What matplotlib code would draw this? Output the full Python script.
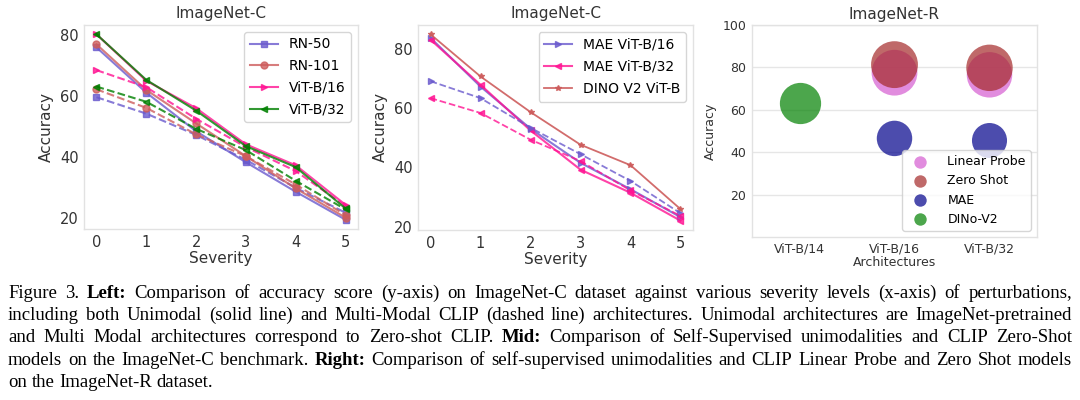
import numpy as np
import matplotlib
matplotlib.use('Agg')
import matplotlib.pyplot as plt

# ---- data ----
severity = [0, 1, 2, 3, 4, 5]

left_models = ['RN-50', 'RN-101', 'ViT-B/16', 'ViT-B/32']
# unimodal, ImageNet-pretrained (solid)
uni_rn50 = [76.0, 61.1, 48.4, 38.2, 28.5, 19.3]
uni_rn101 = [77.0, 62.0, 51.0, 40.2, 29.6, 20.0]
uni_vitb16 = [80.3, 65.0, 56.0, 44.1, 37.2, 24.2]
uni_vitb32 = [80.3, 65.3, 55.2, 43.5, 36.6, 23.0]
# CLIP zero-shot (dashed)
clip_rn50 = [59.6, 54.2, 47.2, 39.0, 29.8, 21.6]
clip_rn101 = [62.2, 56.1, 47.4, 40.2, 30.9, 20.8]
clip_vitb16 = [68.5, 62.9, 52.5, 43.2, 35.3, 23.8]
clip_vitb32 = [63.1, 58.1, 49.2, 42.2, 32.1, 22.7]

mid_models = ['MAE ViT-B/16', 'MAE ViT-B/32', 'DINO V2 ViT-B']
mae_vitb16 = [83.6, 67.2, 53.0, 41.5, 32.6, 23.2]
mae_vitb32 = [83.0, 67.8, 52.4, 39.2, 31.4, 22.0]
dino_vitb = [84.8, 70.6, 58.6, 47.6, 40.7, 25.9]
mid_clip_vitb16 = [69.0, 63.3, 53.3, 44.4, 35.4, 24.5]
mid_clip_vitb32 = [63.3, 58.3, 49.3, 42.1, 32.2, 23.6]

arch = ['ViT-B/14', 'ViT-B/16', 'ViT-B/32']
lp_arch = ['ViT-B/16', 'ViT-B/32']
linear_probe = [77.5, 76.5]
zs_arch = ['ViT-B/16', 'ViT-B/32']
zero_shot = [81.3, 79.8]
mae_arch = ['ViT-B/16', 'ViT-B/32']
mae_r = [46.5, 45.5]
dino_arch = ['ViT-B/14']
dino_r = [63.0]

caption = [
    "Figure 3. **Left:** Comparison of accuracy score (y-axis) on ImageNet-C dataset against various severity levels (x-axis) of perturbations,",
    "including both Unimodal (solid line) and Multi-Modal CLIP (dashed line) architectures. Unimodal architectures are ImageNet-pretrained",
    "and Multi Modal architectures correspond to Zero-shot CLIP. **Mid:** Comparison of Self-Supervised unimodalities and CLIP Zero-Shot",
    "models on the ImageNet-C benchmark. **Right:** Comparison of self-supervised unimodalities and CLIP Linear Probe and Zero Shot models",
    "on the ImageNet-R dataset.",
]

W, H = 1080, 400
fig = plt.figure(figsize=(W / 100, H / 100), dpi=100)
ax1 = fig.add_axes([84 / W, 1 - 229 / H, 274 / W, 204 / H])
ax2 = fig.add_axes([418 / W, 1 - 230 / H, 275 / W, 205 / H])
ax3 = fig.add_axes([752 / W, 1 - 237 / H, 285 / W, 212 / H])


def style(ax, fs):
    for s in ax.spines.values():
        s.set_color('#e2e2e2')
        s.set_linewidth(1.0)
    ax.tick_params(length=0, labelsize=fs, labelcolor='#333333', pad=4)


# left
cols = ['slateblue', 'indianred', 'deeppink', 'green']
mks = ['s', 'o', '>', '<']
for name, u, c_, col, m in zip(left_models,
                               [uni_rn50, uni_rn101, uni_vitb16, uni_vitb32],
                               [clip_rn50, clip_rn101, clip_vitb16, clip_vitb32],
                               cols, mks):
    ax1.plot(severity, u, color=col, marker=m, ms=5, lw=1.5, alpha=0.8, label=name)
    ax1.plot(severity, c_, color=col, marker=m, ms=5, lw=1.5, ls='--', alpha=0.8)
ax1.set_title('ImageNet-C', fontsize=11, color='#333333', pad=5)
ax1.set_xlabel('Severity', fontsize=11, color='#333333', labelpad=1)
ax1.set_ylabel('Accuracy', fontsize=11, color='#333333', labelpad=4)
ax1.set_yticks([20, 40, 60, 80])
ax1.legend(loc='upper right', fontsize=10, labelspacing=0.55)
style(ax1, 10.5)

# middle
ax2.plot(severity, mae_vitb16, color='slateblue', marker='>', ms=5, lw=1.5, alpha=0.8, label=mid_models[0])
ax2.plot(severity, mae_vitb32, color='deeppink', marker='<', ms=5, lw=1.5, alpha=0.8, label=mid_models[1])
ax2.plot(severity, dino_vitb, color='indianred', marker='*', ms=4, lw=1.3, alpha=0.9, label=mid_models[2])
ax2.plot(severity, mid_clip_vitb16, color='slateblue', marker='>', ms=5, lw=1.3, ls='--', alpha=0.8)
ax2.plot(severity, mid_clip_vitb32, color='deeppink', marker='<', ms=5, lw=1.3, ls='--', alpha=0.8)
ax2.set_title('ImageNet-C', fontsize=11, color='#333333', pad=5)
ax2.set_xlabel('Severity', fontsize=11, color='#333333', labelpad=1)
ax2.set_ylabel('Accuracy', fontsize=11, color='#333333', labelpad=4)
ax2.set_yticks([20, 40, 60, 80])
ax2.legend(loc='upper right', fontsize=10, labelspacing=0.6)
style(ax2, 10.5)

# right
k = 14.0
ax3.set_axisbelow(True)
ax3.grid(axis='y', color='#e6e6e6', lw=1.0)
ax3.scatter([arch.index(a) for a in lp_arch], linear_probe, s=[k * v for v in linear_probe],
            color='orchid', alpha=0.8, lw=0, label='Linear Probe')
ax3.scatter([arch.index(a) for a in zs_arch], zero_shot, s=[k * v for v in zero_shot],
            color='brown', alpha=0.7, lw=0, label='Zero Shot')
ax3.scatter([arch.index(a) for a in mae_arch], mae_r, s=[k * v for v in mae_r],
            color='darkblue', alpha=0.7, lw=0, label='MAE')
ax3.scatter([arch.index(a) for a in dino_arch], dino_r, s=[k * v for v in dino_r],
            color='green', alpha=0.7, lw=0, label='DINo-V2')
ax3.set_xticks(range(len(arch)), arch)
ax3.set_xlim(-0.5, 2.5)
ax3.set_ylim(0, 100)
ax3.set_yticks([20, 40, 60, 80, 100])
ax3.set_title('ImageNet-R', fontsize=11, color='#333333', pad=4)
ax3.set_xlabel('Architectures', fontsize=9, color='#333333', labelpad=0)
ax3.set_ylabel('Accuracy', fontsize=9, color='#333333', labelpad=4)
leg = ax3.legend(loc='lower right', fontsize=9, labelspacing=0.5, handletextpad=1.2)
for h in leg.legend_handles:
    h.set_sizes([80])
style(ax3, 9)

# caption, justified word by word
fig.canvas.draw()
renderer = fig.canvas.get_renderer()
cap_fs = 13.5
x0, x1 = 8, 1072
for i, line in enumerate(caption):
    words = line.split(' ')
    texts = []
    for w in words:
        bold = w.startswith('**')
        t = fig.text(0, 0, w.replace('**', ''), fontsize=cap_fs, family='Liberation Serif',
                     fontweight='bold' if bold else 'normal', color='black', va='baseline')
        texts.append(t)
    widths = [t.get_window_extent(renderer).width for t in texts]
    if i < len(caption) - 1:
        gap = (x1 - x0 - sum(widths)) / (len(words) - 1)
    else:
        gap = 4.7
    x = x0
    yb = 298 + 22.2 * i
    for t, w in zip(texts, widths):
        t.set_position((x / W, 1 - yb / H))
        x += w + gap

fig.savefig('out.png', dpi=100)
